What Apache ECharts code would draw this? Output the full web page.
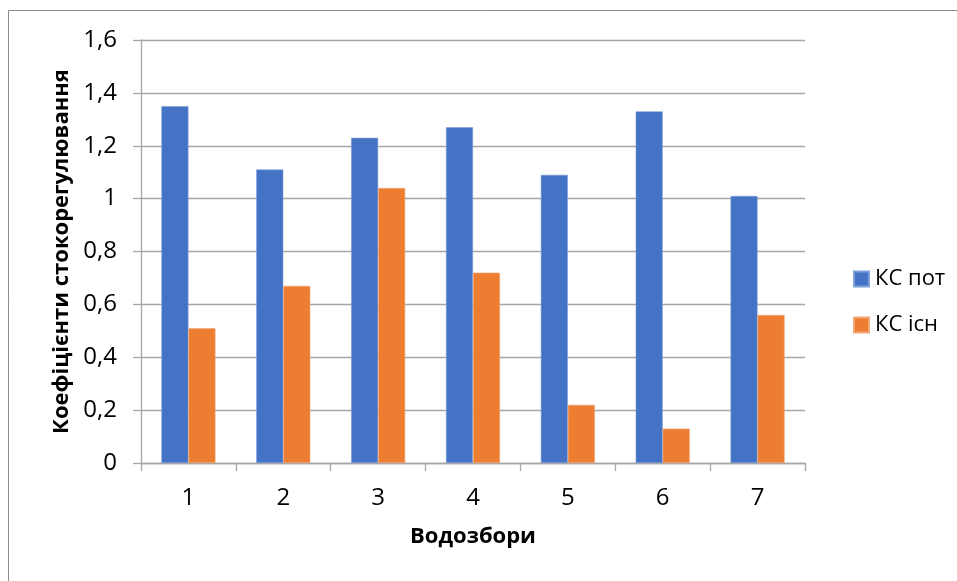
<!DOCTYPE html>
<html>
<head>
<meta charset="utf-8">
<script src="https://cdn.jsdelivr.net/npm/echarts@6/dist/echarts.min.js"></script>
<style>
  html, body { margin: 0; padding: 0; background: #fff; }
  #chart { width: 957px; height: 581px; }
</style>
</head>
<body>
<div id="chart"></div>
<script>
// Catchment numbers and runoff-regulation coefficients
const categories = ['1', '2', '3', '4', '5', '6', '7'];
const ksPot = [1.35, 1.11, 1.23, 1.27, 1.09, 1.33, 1.01];
const ksIsn = [0.51, 0.67, 1.04, 0.72, 0.22, 0.13, 0.56];
const seriesNames = ['КС пот', 'КС існ'];
const yTicks = { min: 0, max: 1.6, step: 0.2 };

const font = '"Open Sans", "Noto Sans", sans-serif';
const gridColor = '#a6a6a6';

const chart = echarts.init(document.getElementById('chart'), null, { renderer: 'canvas' });

chart.setOption({
  backgroundColor: '#ffffff',
  animation: false,
  textStyle: { fontFamily: font },
  graphic: [{
    type: 'rect',
    shape: { x: 8.5, y: 10.5, width: 960, height: 600 },
    style: { fill: 'none', stroke: '#8c8c8c', lineWidth: 1 },
    silent: true
  }],
  grid: { left: 141, right: 152, top: 40, bottom: 118, containLabel: false },
  legend: {
    orient: 'vertical',
    left: 848,
    top: 263,
    itemWidth: 15,
    itemHeight: 15,
    itemGap: 24,
    icon: 'rect',
    textStyle: { fontFamily: font, fontSize: 22, color: '#000', padding: [0, 0, 0, 1] },
    data: seriesNames
  },
  xAxis: {
    type: 'category',
    data: categories,
    name: 'Водозбори',
    nameLocation: 'middle',
    nameGap: 63,
    nameTextStyle: { fontFamily: font, fontSize: 22, fontWeight: 'bold', color: '#000' },
    axisLine: { show: true, lineStyle: { color: gridColor, width: 1.3 } },
    axisTick: { show: true, length: 8, lineStyle: { color: gridColor, width: 1.3 } },
    axisLabel: { fontFamily: font, fontSize: 24, color: '#000', margin: 23 },
    splitLine: { show: false }
  },
  yAxis: {
    type: 'value',
    min: yTicks.min,
    max: yTicks.max,
    interval: yTicks.step,
    name: 'Коефіцієнти стокорегулювання',
    nameLocation: 'middle',
    nameGap: 68,
    nameRotate: 90,
    nameTextStyle: { fontFamily: font, fontSize: 22, fontWeight: 'bold', color: '#000' },
    axisLine: { show: true, lineStyle: { color: gridColor, width: 1.3 } },
    axisTick: { show: true, length: 8, lineStyle: { color: gridColor, width: 1.3 } },
    axisLabel: {
      fontFamily: font, fontSize: 24, color: '#000', margin: 24,
      formatter: v => String(Math.round(v * 10) / 10).replace('.', ',')
    },
    splitLine: { show: true, lineStyle: { color: gridColor, width: 1.3 } }
  },
  series: [
    {
      name: seriesNames[0],
      type: 'bar',
      data: ksPot,
      barGap: '0%',
      barCategoryGap: '43%',
      itemStyle: { color: '#4472C4', borderColor: '#7f9fd9', borderWidth: 0.6 }
    },
    {
      name: seriesNames[1],
      type: 'bar',
      data: ksIsn,
      barGap: '0%',
      barCategoryGap: '43%',
      itemStyle: { color: '#ED7D31', borderColor: '#f3a878', borderWidth: 0.6 }
    }
  ]
});
</script>
</body>
</html>
